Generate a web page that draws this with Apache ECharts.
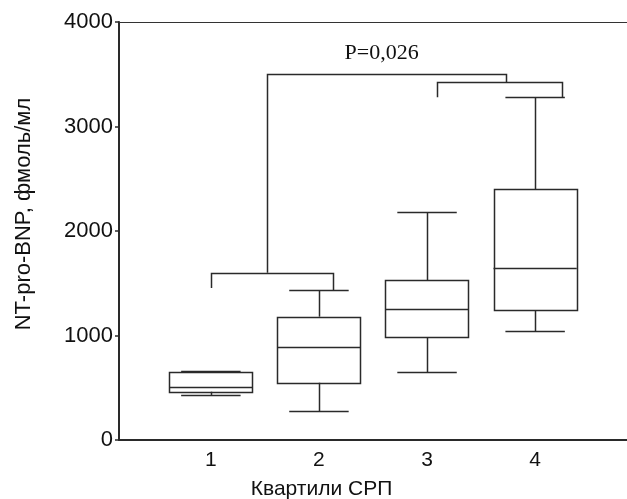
<!DOCTYPE html>
<html>
<head>
<meta charset="utf-8">
<script src="https://cdn.jsdelivr.net/npm/echarts@6/dist/echarts.min.js"></script>
<style>
html, body { margin: 0; padding: 0; background: #fff; }
#chart { width: 627px; height: 499px; }
</style>
</head>
<body>
<div id="chart"></div>
<script>
// квартили СРП и значения NT-pro-BNP
var quartiles = ['1', '2', '3', '4'];
var whiskerLow = [431, 275, 648, 1043];
var boxQ1 = [462, 548, 983, 1241];
var boxMedian = [507, 887, 1256, 1643];
var boxQ3 = [651, 1180, 1528, 2399];
var whiskerHigh = [660, 1435, 2182, 3280];

// скобки сравнения (1-2 и 3-4) и общая связка
var bracketLeft = [1.0, 3.09];
var bracketRight = [2.13, 4.25];
var bracketLevel = [1600, 3425];
var bracketLegLeft = [1455, 3280];
var bracketLegRight = [1435, 3280];
var bracketMid = [1.52, 3.73];
var linkLevel = 3500;
var pText = 'P=0,026';
var pAt = [2.58, 3700];

var LINE = '#2a2a2a';
var LW = 1.5;
var BOX_W = 0.77, CAP_W = 0.55;

var chart = echarts.init(document.getElementById('chart'));

var boxData = quartiles.map(function (q, i) {
    return [i + 1, whiskerLow[i], boxQ1[i], boxMedian[i], boxQ3[i], whiskerHigh[i]];
});
var bracketData = bracketLeft.map(function (l, i) {
    return [l, bracketRight[i], bracketLevel[i], bracketLegLeft[i], bracketLegRight[i], bracketMid[i]];
});

function crisp(v) { return Math.round(v) + 0.5; }

function hline(x1, x2, y) {
    return { type: 'line', shape: { x1: x1, y1: crisp(y), x2: x2, y2: crisp(y) }, style: { stroke: LINE, lineWidth: LW } };
}
function vline(x, y1, y2) {
    return { type: 'line', shape: { x1: crisp(x), y1: y1, x2: crisp(x), y2: y2 }, style: { stroke: LINE, lineWidth: LW } };
}

function renderBox(params, api) {
    var x = api.value(0);
    var c = api.coord([x, 0])[0];
    var lo = api.coord([x, api.value(1)])[1];
    var q1 = api.coord([x, api.value(2)])[1];
    var md = api.coord([x, api.value(3)])[1];
    var q3 = api.coord([x, api.value(4)])[1];
    var hi = api.coord([x, api.value(5)])[1];
    var hb = api.size([BOX_W, 0])[0] / 2;
    var hc = api.size([CAP_W, 0])[0] / 2;
    return {
        type: 'group',
        children: [
            vline(c, q3, hi),
            vline(c, q1, lo),
            hline(c - hc, c + hc, hi),
            hline(c - hc, c + hc, lo),
            { type: 'rect', shape: { x: crisp(c - hb), y: crisp(q3), width: Math.round(2 * hb), height: Math.round(q1 - q3) },
              style: { fill: 'rgba(255,255,255,0)', stroke: LINE, lineWidth: LW } },
            hline(c - hb, c + hb, md)
        ]
    };
}

function renderBracket(params, api) {
    var l = api.coord([api.value(0), api.value(2)]);
    var r = api.coord([api.value(1), api.value(2)]);
    var ll = api.coord([api.value(0), api.value(3)]);
    var rl = api.coord([api.value(1), api.value(4)]);
    var kids = [{
        type: 'polyline',
        shape: { points: [[crisp(ll[0]), ll[1]], [crisp(l[0]), crisp(l[1])], [crisp(r[0]), crisp(r[1])], [crisp(rl[0]), rl[1]]] },
        style: { stroke: LINE, lineWidth: LW, fill: null }
    }];
    if (params.dataIndex === 0) {
        var a = api.coord([bracketMid[0], bracketLevel[0]]);
        var a2 = api.coord([bracketMid[0], linkLevel]);
        var b2 = api.coord([bracketMid[1], linkLevel]);
        var b = api.coord([bracketMid[1], bracketLevel[1]]);
        kids.push({
            type: 'polyline',
            shape: { points: [[crisp(a[0]), a[1]], [crisp(a2[0]), crisp(a2[1])], [crisp(b2[0]), crisp(b2[1])], [crisp(b[0]), b[1]]] },
            style: { stroke: LINE, lineWidth: LW, fill: null }
        });
        var p = api.coord(pAt);
        kids.push({
            type: 'text',
            style: { text: pText, x: p[0], y: p[1], align: 'center', verticalAlign: 'middle',
                     font: '22px "Liberation Serif", "Times New Roman", serif', fill: '#111' }
        });
    }
    return { type: 'group', children: kids };
}

chart.setOption({
    animation: false,
    grid: { left: 119, right: 0, top: 22, bottom: 59, outerBoundsMode: 'none', containLabel: false },
    xAxis: [{
        type: 'value',
        min: 0.15,
        max: 4.85,
        name: 'Квартили СРП',
        nameLocation: 'middle',
        nameGap: 39,
        nameTextStyle: { fontSize: 21, color: '#111', fontFamily: 'Liberation Sans', padding: [0, 103, 0, 0] },
        axisLine: { show: true, lineStyle: { color: LINE, width: 2 } },
        axisTick: { show: false },
        splitLine: { show: false },
        axisLabel: {
            customValues: [1, 2, 3, 4],
            formatter: function (v) { return quartiles[Math.round(v) - 1]; },
            fontSize: 21, color: '#111', fontFamily: 'Liberation Sans', margin: 10
        }
    }, {
        type: 'value',
        position: 'top',
        min: 0.15,
        max: 4.85,
        axisLine: { show: true, lineStyle: { color: '#333', width: 1.2 } },
        axisTick: { show: false },
        axisLabel: { show: false },
        splitLine: { show: false }
    }],
    yAxis: {
        type: 'value',
        min: 0,
        max: 4000,
        interval: 1000,
        name: 'NT-pro-BNP, фмоль/мл',
        nameLocation: 'middle',
        nameGap: 84,
        nameTextStyle: { fontSize: 22, color: '#111', fontFamily: 'Liberation Sans', padding: [0, 0, 0, 34] },
        axisLine: { show: true, lineStyle: { color: LINE, width: 2 } },
        axisTick: { show: true, length: 4, lineStyle: { color: LINE, width: 1.5 } },
        splitLine: { show: false },
        axisLabel: {
            formatter: function (v) { return String(v); },
            fontSize: 22, color: '#111', fontFamily: 'Liberation Sans', margin: 6
        }
    },
    series: [{
        type: 'custom',
        name: 'NT-pro-BNP',
        renderItem: renderBox,
        encode: { x: 0, y: [1, 2, 3, 4, 5] },
        data: boxData
    }, {
        type: 'custom',
        name: 'brackets',
        renderItem: renderBracket,
        encode: { x: [0, 1], y: [2, 3, 4] },
        data: bracketData
    }]
});
</script>
</body>
</html>
